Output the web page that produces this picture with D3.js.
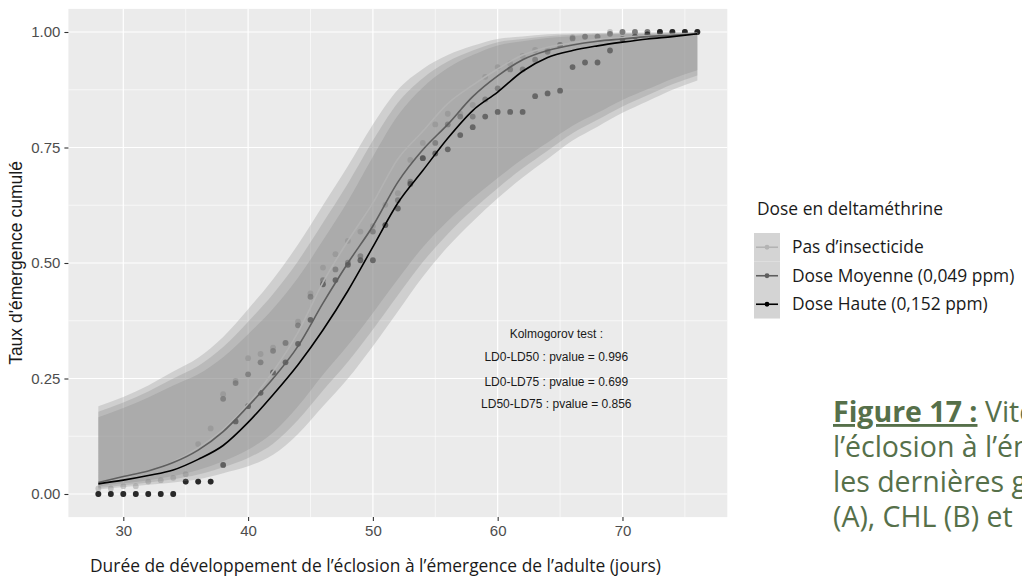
<!DOCTYPE html>
<html><head><meta charset="utf-8">
<script src="https://cdn.jsdelivr.net/npm/d3@7"></script>
<style>body{margin:0;background:#fff;overflow:hidden} svg{display:block}</style>
</head><body><svg id="c" width="1022" height="582"></svg>
<script>
// ---- data ----
const groups = ["Pas d’insecticide", "Dose Moyenne (0,049 ppm)", "Dose Haute (0,152 ppm)"];
const groupColors = ["#b3b3b3", "#5e5e5e", "#000000"];

const fitDays = [28,30,32,34,36,38,40,42,44,46,48,50,52,54,56,58,60,62,64,66,68,70,72,74,76];
const fitPas   = [0.02,0.035,0.05,0.07,0.10,0.14,0.195,0.265,0.35,0.458,0.548,0.63,0.725,0.785,0.845,0.885,0.92,0.95,0.967,0.977,0.984,0.988,0.992,0.995,0.997];
const fitMoy   = [0.025,0.038,0.05,0.068,0.095,0.135,0.19,0.25,0.32,0.413,0.50,0.58,0.675,0.745,0.80,0.86,0.905,0.94,0.96,0.972,0.98,0.985,0.99,0.993,0.996];
const fitHaute = [0.022,0.03,0.04,0.052,0.075,0.105,0.155,0.215,0.28,0.355,0.44,0.535,0.63,0.70,0.77,0.83,0.87,0.915,0.945,0.96,0.97,0.978,0.985,0.99,0.996];

const bandPasHi   = [0.19,0.21,0.235,0.265,0.295,0.34,0.40,0.465,0.54,0.625,0.71,0.80,0.875,0.92,0.95,0.97,0.985,0.99,0.995,0.997,0.998,0.999,0.999,1.0,1.0];
const bandMoyHi   = [0.178,0.198,0.222,0.25,0.277,0.318,0.373,0.433,0.504,0.587,0.672,0.765,0.847,0.90,0.936,0.96,0.978,0.985,0.991,0.994,0.996,0.997,0.997,0.998,0.998];
const bandHauteHi = [0.166,0.186,0.209,0.235,0.259,0.296,0.346,0.401,0.468,0.549,0.634,0.73,0.819,0.88,0.922,0.95,0.971,0.98,0.987,0.991,0.994,0.995,0.995,0.996,0.996];
const bandPasLo   = [0.016,0.023,0.03,0.039,0.052,0.071,0.096,0.133,0.19,0.258,0.322,0.392,0.465,0.534,0.591,0.64,0.684,0.725,0.761,0.797,0.825,0.853,0.876,0.899,0.917];
const bandMoyLo   = [0.013,0.019,0.025,0.032,0.042,0.058,0.078,0.109,0.16,0.224,0.286,0.356,0.43,0.502,0.563,0.615,0.662,0.705,0.743,0.781,0.81,0.839,0.863,0.887,0.906];
const bandHauteLo = [0.01,0.015,0.02,0.025,0.032,0.045,0.06,0.085,0.13,0.19,0.25,0.32,0.395,0.47,0.535,0.59,0.64,0.685,0.725,0.765,0.795,0.825,0.85,0.875,0.895];

const obsDays = [28,29,30,31,32,33,34,35,36,37,38,39,40,41,42,43,44,45,46,47,48,49,50,51,52,53,54,55,56,57,58,59,60,61,62,63,64,65,66,67,68,69,70,71,72,73,74,75,76];
const obsPas   = [0.012,0.012,0.017,0.017,0.027,0.03,0.035,0.043,0.108,0.142,0.216,0.245,0.294,0.303,0.317,0.327,0.373,0.434,0.49,0.519,0.548,0.568,0.58,0.626,0.651,0.723,0.76,0.80,0.823,0.823,0.842,0.903,0.924,0.932,0.948,0.961,0.961,0.972,0.989,0.989,0.989,1,1,1,1,1,1,1,1];
const obsMoy   = [0,0,0,0,0,0,0,0.027,0.027,0.027,0.206,0.24,0.259,0.285,0.31,0.327,0.365,0.427,0.463,0.486,0.501,0.515,0.568,0.582,0.636,0.676,0.727,0.76,0.80,0.817,0.817,0.854,0.878,0.919,0.919,0.94,0.957,0.972,0.986,0.99,0.99,0.996,1,1,1,1,1,1,1];
const obsHaute = [0,0,0,0,0,0,0,0.027,0.027,0.027,0.063,0.157,0.19,0.219,0.263,0.285,0.325,0.377,0.454,0.463,0.496,0.506,0.506,0.582,0.618,0.671,0.727,0.737,0.746,0.777,0.794,0.817,0.827,0.827,0.827,0.861,0.867,0.873,0.924,0.934,0.934,0.96,0.985,0.99,0.995,1,1,1,1];

const xTicks = [30,40,50,60,70];
const xMinor = [35,45,55,65,75];
const yTicks = [0,0.25,0.5,0.75,1];
const yTickLabels = ["0.00","0.25","0.50","0.75","1.00"];
const yMinor = [0.125,0.375,0.625,0.875];

const ksLines = ["Kolmogorov test :","LD0-LD50 : pvalue = 0.996","LD0-LD75 : pvalue = 0.699","LD50-LD75 : pvalue = 0.856"];
const ksX = 64.7;
const ksY = [0.346,0.297,0.243,0.195];

const xTitle = "Durée de développement de l’éclosion à l’émergence de l’adulte (jours)";
const yTitle = "Taux d'émergence cumulé";
const legendTitle = "Dose en deltaméthrine";
const captionLines = ["l’éclosion à l’émergence", "les dernières générations", "(A), CHL (B) et"];

// ---- drawing ----
const svg = d3.select("#c");
const x = d3.scaleLinear().domain([25.6, 78.4]).range([68.4, 727.3]);
const y = d3.scaleLinear().domain([-0.05, 1.05]).range([517.1, 8.9]);
const [px0, px1] = x.range(), [py1, py0] = y.range();

svg.append("rect").attr("x", px0).attr("y", py0).attr("width", px1 - px0).attr("height", py1 - py0).attr("fill", "#ebebeb");
const grid = svg.append("g");
grid.selectAll(".vx").data(xMinor).join("line").attr("x1", d => x(d)).attr("x2", d => x(d)).attr("y1", py0).attr("y2", py1).attr("stroke", "#fff").attr("stroke-width", 0.6);
grid.selectAll(".hy").data(yMinor).join("line").attr("y1", d => y(d)).attr("y2", d => y(d)).attr("x1", px0).attr("x2", px1).attr("stroke", "#fff").attr("stroke-width", 0.6);
grid.selectAll(".vX").data(xTicks).join("line").attr("x1", d => x(d)).attr("x2", d => x(d)).attr("y1", py0).attr("y2", py1).attr("stroke", "#fff").attr("stroke-width", 1.2);
grid.selectAll(".hY").data(yTicks).join("line").attr("y1", d => y(d)).attr("y2", d => y(d)).attr("x1", px0).attr("x2", px1).attr("stroke", "#fff").attr("stroke-width", 1.2);

const obs = [obsPas, obsMoy, obsHaute];
const fits = [fitPas, fitMoy, fitHaute];
const bands = [[bandPasLo, bandPasHi], [bandMoyLo, bandMoyHi], [bandHauteLo, bandHauteHi]];

// points (under ribbons)
obs.forEach((vals, gi) => {
  svg.append("g").selectAll("circle").data(obsDays.map((d, i) => [d, vals[i]])).join("circle")
    .attr("cx", d => x(d[0])).attr("cy", d => y(d[1])).attr("r", 2.9)
    .attr("fill", groupColors[gi]).attr("fill-opacity", 0.7);
});
// ribbons
const area = d3.area().x(d => x(d[0])).y0(d => y(d[1])).y1(d => y(d[2])).curve(d3.curveMonotoneX);
bands.forEach(([lo, hi]) => {
  svg.append("path").datum(fitDays.map((d, i) => [d, lo[i], hi[i]])).attr("d", area)
    .attr("fill", "#7f7f7f").attr("fill-opacity", 0.26);
});
// lines
const line = d3.line().x(d => x(d[0])).y(d => y(d[1])).curve(d3.curveMonotoneX);
fits.forEach((vals, gi) => {
  svg.append("path").datum(fitDays.map((d, i) => [d, vals[i]])).attr("d", line)
    .attr("fill", "none").attr("stroke", groupColors[gi]).attr("stroke-width", 1.6);
});

// axes
const axFont = "'Liberation Sans', Arial, sans-serif";
const docFont = "'Open Sans', 'Noto Sans', sans-serif";
const xa = svg.append("g").attr("transform", `translate(0,${py1})`)
  .call(d3.axisBottom(x).tickValues(xTicks).tickSize(4).tickPadding(4).tickFormat(d3.format("d")));
const ya = svg.append("g").attr("transform", `translate(${px0},0)`)
  .call(d3.axisLeft(y).tickValues(yTicks).tickSize(4).tickPadding(4).tickFormat((d, i) => yTickLabels[i]));
[xa, ya].forEach(a => {
  a.select(".domain").remove();
  a.selectAll(".tick line").attr("stroke", "#333").attr("stroke-width", 1.1);
  a.selectAll(".tick text").attr("fill", "#4d4d4d").style("font-family", axFont).style("font-size", "15px");
});

svg.append("text").attr("transform", `translate(22,${y(0.5)}) rotate(-90)`).attr("text-anchor", "middle")
  .style("font-family", axFont).style("font-size", "17.5px").attr("fill", "#1a1a1a").text(yTitle);

svg.append("text").attr("x", 90).attr("y", 572).style("font-family", docFont)
  .style("font-size", "17.4px").attr("fill", "#1a1a1a").text(xTitle);

// KS annotation
svg.append("g").selectAll("text").data(ksLines).join("text")
  .attr("x", x(ksX)).attr("y", (d, i) => y(ksY[i])).attr("dy", "0.35em").attr("text-anchor", "middle")
  .style("font-family", axFont).style("font-size", "12px").attr("fill", "#1a1a1a").text(d => d);

// legend
const lg = svg.append("g");
lg.append("text").attr("x", 757).attr("y", 215).style("font-family", docFont)
  .style("font-size", "17.4px").attr("fill", "#1a1a1a").text(legendTitle);
const keyH = 28.5, keyTop = 233;
groups.forEach((g, i) => {
  const cy = keyTop + keyH * i + keyH / 2;
  lg.append("rect").attr("x", 754).attr("y", keyTop + keyH * i).attr("width", 26).attr("height", keyH).attr("fill", "#f2f2f2");
  lg.append("rect").attr("x", 754).attr("y", keyTop + keyH * i).attr("width", 26).attr("height", keyH).attr("fill", "#7f7f7f").attr("fill-opacity", 0.26);
  lg.append("line").attr("x1", 756).attr("x2", 778).attr("y1", cy).attr("y2", cy).attr("stroke", groupColors[i]).attr("stroke-width", 1.6);
  lg.append("circle").attr("cx", 767).attr("cy", cy).attr("r", 2.4).attr("fill", groupColors[i]);
  lg.append("text").attr("x", 792).attr("y", cy + 6).style("font-family", docFont)
    .style("font-size", "17.4px").attr("fill", "#1a1a1a").text(g);
});

// caption (runs past the right edge, as in the reference page crop)
const cap = svg.append("g").style("font-family", docFont).style("font-size", "28.5px").attr("fill", "#56704a");
const t0 = cap.append("text").attr("x", 833).attr("y", 422);
t0.append("tspan").attr("font-weight", "bold").attr("text-decoration", "underline").text("Figure 17 :");
t0.append("tspan").text(" Vitesse");
captionLines.forEach((l, i) => cap.append("text").attr("x", 833).attr("y", 457 + i * 35).text(l));
</script></body></html>
